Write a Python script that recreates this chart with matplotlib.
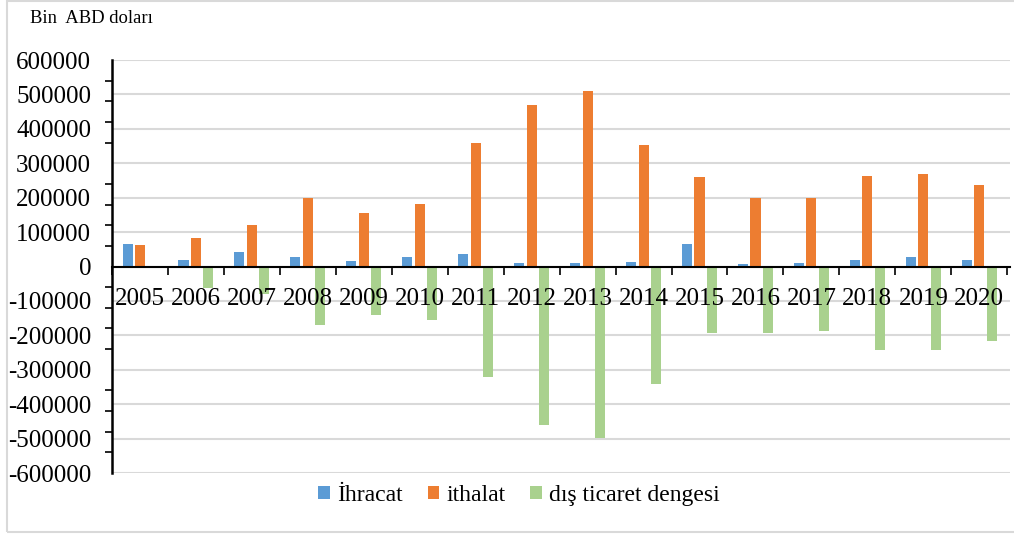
import numpy as np
import matplotlib.pyplot as plt
from matplotlib.patches import Rectangle
from matplotlib.ticker import MultipleLocator

# Chart data (bin ABD doları)
years = ['2005', '2006', '2007', '2008', '2009', '2010', '2011', '2012',
         '2013', '2014', '2015', '2016', '2017', '2018', '2019', '2020']
ihracat = [65000, 20000, 41000, 28000, 15000, 29000, 36000, 10000,
           11000, 13000, 65000, 7000, 11000, 20000, 27000, 20000]
ithalat = [63000, 82000, 120000, 198000, 155000, 183000, 358000, 470000,
           509000, 353000, 259000, 199000, 199000, 264000, 269000, 237000]
denge = [2000, -62000, -79000, -170000, -141000, -154000, -322000, -460000,
         -498000, -340000, -194000, -192000, -188000, -244000, -242000, -217000]
series_names = ['İhracat', 'ithalat', 'dış ticaret dengesi']
y_labels = ['600000', '500000', '400000', '300000', '200000', '100000', '0',
            '-100000', '-200000', '-300000', '-400000', '-500000', '-600000']

colors = ['#5B9BD5', '#ED7D31', '#A9D18E']

plt.rcParams['font.family'] = ['Liberation Serif', 'DejaVu Serif']

fig = plt.figure(figsize=(10.14, 5.34), dpi=100)
ax = fig.add_axes([0.1105, 0.1142, 0.8856, 0.7734])

x = np.arange(len(years))
width = 0.18
offset = 0.223
for i, vals in enumerate([ihracat, ithalat, denge]):
    ax.bar(x + (i - 1) * offset, vals, width, color=colors[i],
           label=series_names[i], zorder=2)

ax.set_xlim(-0.5, len(years) - 0.45)
ax.set_ylim(-600000, 600000)

# y axis: labels every 100000, small tick marks every 60000 (as in the original)
ax.set_yticks([int(v) for v in y_labels])
ax.set_yticklabels(y_labels, fontsize=18)
ax.tick_params(axis='y', which='major', length=0, pad=15)
ax.yaxis.set_minor_locator(MultipleLocator(60000))
ax.tick_params(axis='y', which='minor', length=5, width=1.2, direction='out')
ax.yaxis.grid(True, color='#D9D9D9', linewidth=1.5, zorder=0)
ax.set_axisbelow(True)

# x axis crosses at zero, ticks at category boundaries
ax.spines['bottom'].set_position(('data', 0))
ax.spines['bottom'].set_linewidth(1.5)
ax.spines['left'].set_linewidth(1.8)
ax.spines['top'].set_visible(False)
ax.spines['right'].set_visible(False)
ax.set_xticks(np.arange(len(years) + 1) - 0.5)
ax.set_xticklabels([])
ax.tick_params(axis='x', length=6, width=1.2, direction='out')

# year labels drawn on top of the bars
for xi, yr in zip(x, years):
    ax.text(xi, -93000, yr, ha='center', va='center', fontsize=18, zorder=5)

ax.legend(loc='center', bbox_to_anchor=(0.512, 0.072), bbox_transform=fig.transFigure,
          ncol=3, frameon=False, fontsize=17, handlelength=0.5, handleheight=0.5,
          handletextpad=0.3, columnspacing=1.05)

fig.text(0.030, 0.966, 'Bin  ABD doları', fontsize=13.4, va='center', ha='left')

# light frame around the chart
fig.patches.append(Rectangle((0.007, 0.003), 1.2, 0.996, transform=fig.transFigure,
                             fill=False, edgecolor='#D9D9D9', linewidth=1.5))

fig.savefig('out.png', dpi=100)
